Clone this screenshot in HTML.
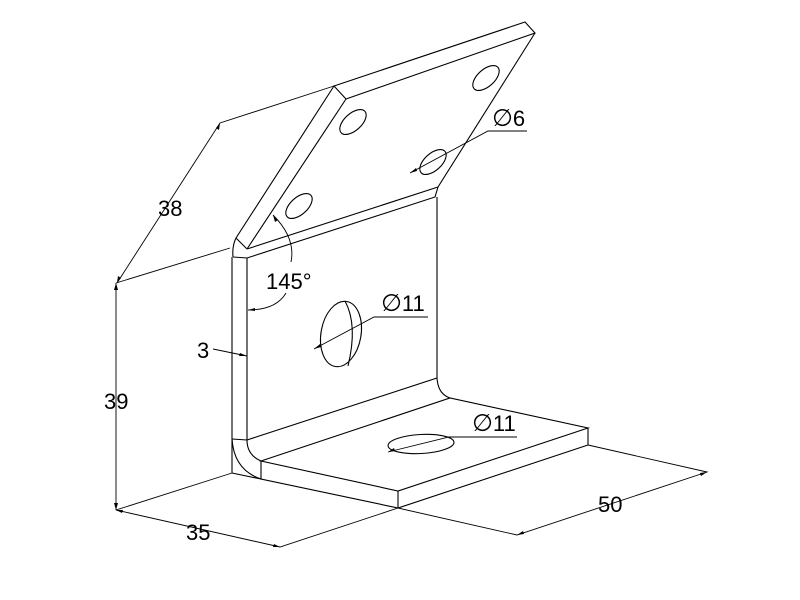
<!DOCTYPE html>
<html><head><style>
html,body{margin:0;padding:0;background:#fff;}
svg{display:block;}
text{font-family:"Liberation Sans",sans-serif;font-size:22px;fill:#000;}
</style></head><body>
<svg width="800" height="600" viewBox="0 0 800 600" xmlns="http://www.w3.org/2000/svg">
<g fill="none" stroke="#000" stroke-width="1.1">
<path d="M334,86 L525,22 L535,33 L346,99 Z"/>
<path d="M535,33 L438,187"/>
<path d="M334,86 L236,238 Q232,246 233,257"/>
<path d="M346,99 L247,249"/>
<path d="M236,238 L247,249"/>
<path d="M247,249 L438,187"/>
<path d="M233,257 L247,258 L435,197 L438,187"/>
<path d="M232,257 L232,473"/>
<path d="M247,258 L247,440"/>
<path d="M437,197 L437,378 Q438,394 450,398"/>
<path d="M437,378 L247,440"/>
<path d="M232,439 L247,440"/>
<path d="M247,440 Q247,455 261,461"/>
<path d="M232,439 Q234,470 261,479"/>
<path d="M261,461 L450,398 L588,428 L398,491 Z"/>
<path d="M261,461 L261,479 L398,508 L588,445 L588,428"/>
<path d="M398,491 L398,508"/>
<path d="M232,473 L261,479"/>
<ellipse cx="353" cy="122" rx="16" ry="8.5" transform="rotate(-42 353 122)"/>
<ellipse cx="486" cy="78" rx="16" ry="8.5" transform="rotate(-42 486 78)"/>
<ellipse cx="299" cy="206" rx="16" ry="8.5" transform="rotate(-42 299 206)"/>
<ellipse cx="433" cy="162" rx="16" ry="8.5" transform="rotate(-42 433 162)"/>
<ellipse cx="341" cy="334" rx="20" ry="33" transform="rotate(10 341 334)"/>
<path d="M345,301 Q358,325 348,366"/>
<ellipse cx="421" cy="444" rx="33" ry="9.5" transform="rotate(-3 421 444)"/>
</g>
<g fill="none" stroke="#000" stroke-width="0.9">
<path d="M232,473 L116,510"/>
<path d="M116,283 L116,510"/>
<path d="M116,283 L230,248"/>
<path d="M117,283 L220,123 L334,86"/>
<path d="M116,510 L280,547 L398,508"/>
<path d="M398,508 L517,535 L707,472 L588,445"/>
<path d="M273,215 Q296,238 291,262"/>
<path d="M286,293 Q276,310 248,310"/>
<path d="M213,349 L247,356"/>
<path d="M314,349 L374,317 L428,317"/>
<path d="M388,452 L449,437 L517,437"/>
<path d="M410,173 L488,131 L527,131"/>
</g>
<g fill="#000">
<path d="M116,283 l-2,7 l4,0 z"/><path d="M116,510 l-2,-7 l4,0 z"/>
<path d="M117,283 l1,-7 l3,2 z"/><path d="M220,123 l-1,7 l-3,-2 z"/>
<path d="M116,510 l7,0 l-1,3 z"/><path d="M280,547 l-7,0 l1,-3 z"/>
<path d="M517,535 l6,-4 l1,3 z"/><path d="M707,472 l-6,4 l-1,-3 z"/>
<path d="M247,356 l-7,-3 l-1,3 z"/>
<path d="M273,215 l2,7 l3,-2 z"/><path d="M248,310 l7,-2 l0,3 z"/>
<path d="M314,349 l6,-5 l1,3 z"/><path d="M388,452 l6,-4 l1,3 z"/><path d="M410,173 l6,-5 l1,3 z"/>
</g>
<text x="158" y="216">38</text>
<text x="104" y="409">39</text>
<text x="186" y="540">35</text>
<text x="598" y="512">50</text>
<text x="197" y="358">3</text>
<text x="266" y="289">145°</text>
<text x="381" y="311"><tspan font-family="DejaVu Sans" font-size="24">∅</tspan>11</text>
<text x="472" y="431"><tspan font-family="DejaVu Sans" font-size="24">∅</tspan>11</text>
<text x="492" y="126"><tspan font-family="DejaVu Sans" font-size="24">∅</tspan>6</text>
</svg>
</body></html>
